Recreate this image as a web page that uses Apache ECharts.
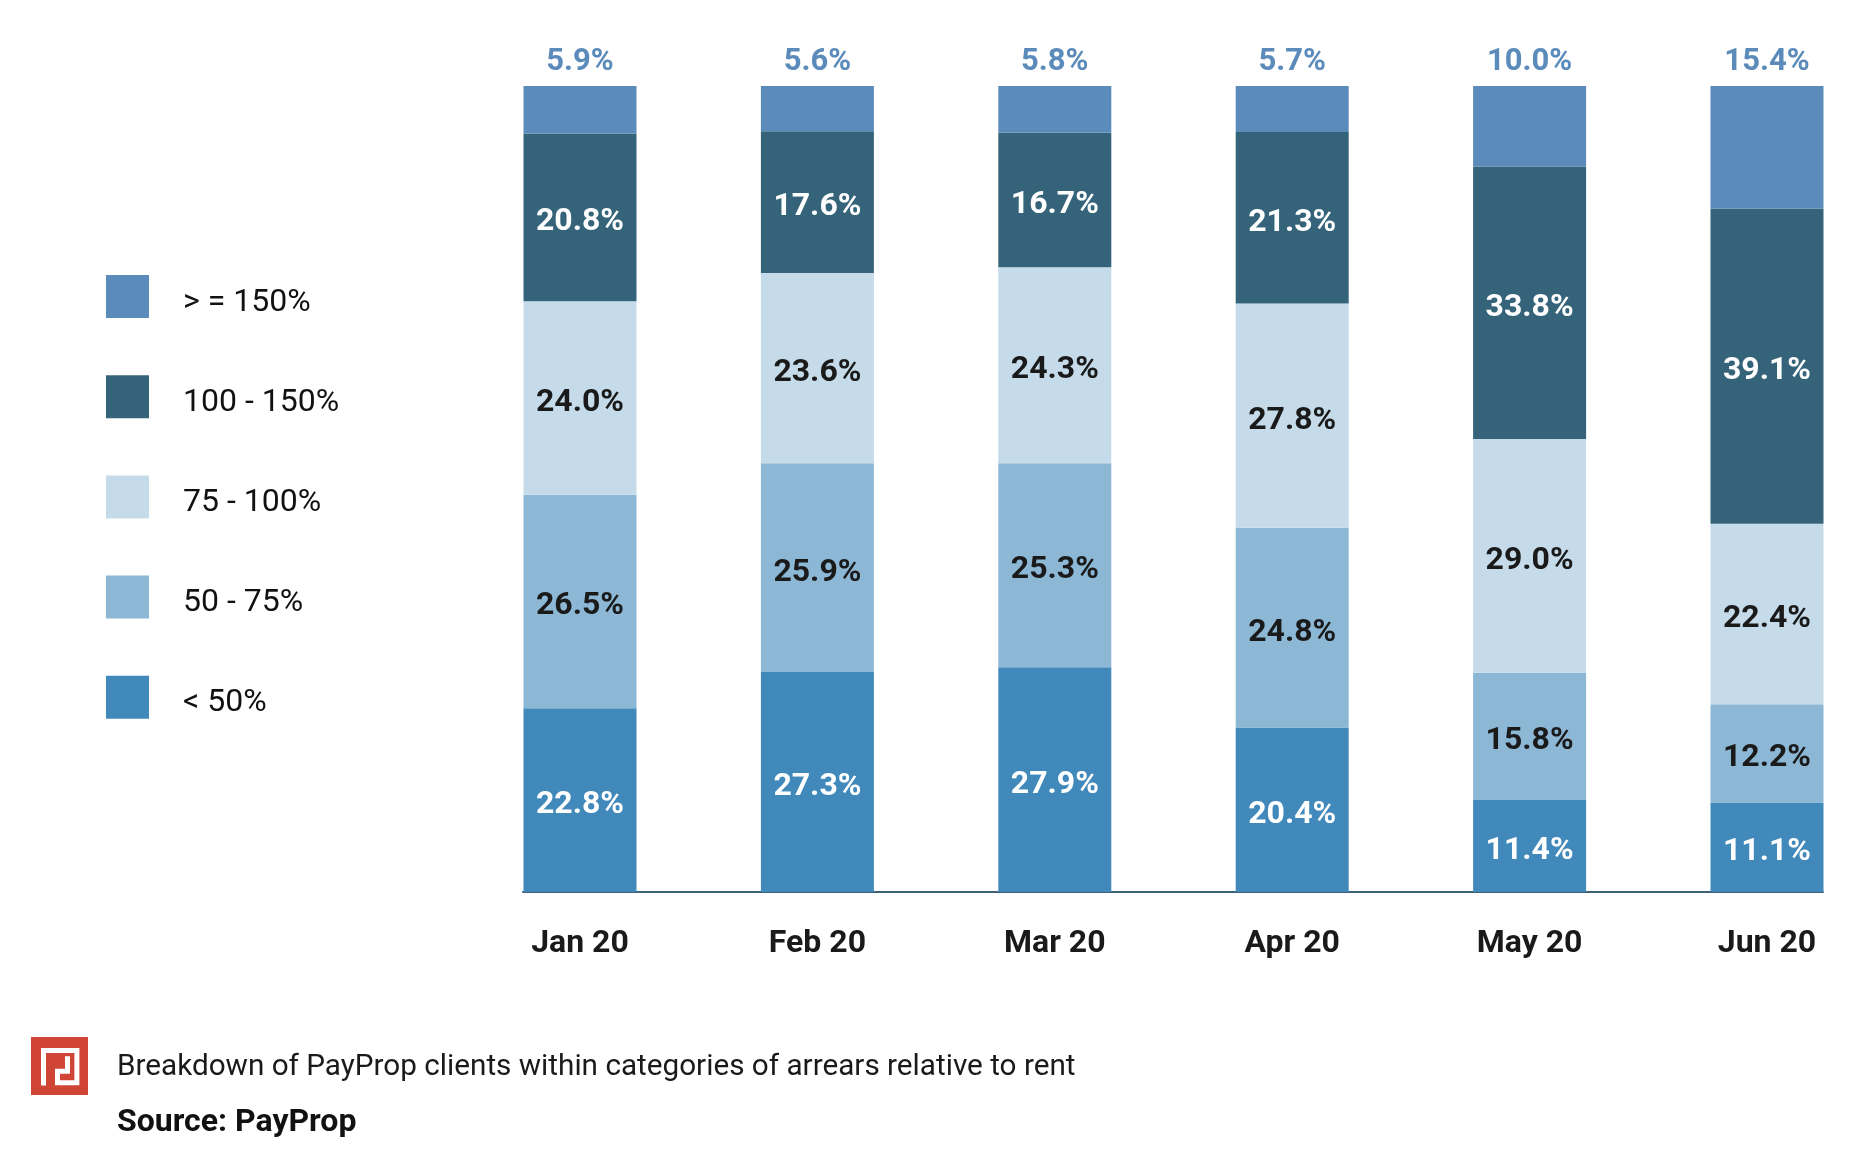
<!DOCTYPE html>
<html>
<head>
<meta charset="utf-8">
<style>
  html, body { margin: 0; padding: 0; background: #ffffff; }
  #chart { width: 1870px; height: 1164px; }
</style>
<script src="https://cdn.jsdelivr.net/npm/echarts@6/dist/echarts.min.js"></script>
</head>
<body>
<div id="chart"></div>
<script>
// ---- data ----
const categories = ['Jan 20', 'Feb 20', 'Mar 20', 'Apr 20', 'May 20', 'Jun 20'];
const seriesNames = ['< 50%', '50 - 75%', '75 - 100%', '100 - 150%', '> = 150%'];
const below50   = [22.8, 27.3, 27.9, 20.4, 11.4, 11.1];
const from50to75  = [26.5, 25.9, 25.3, 24.8, 15.8, 12.2];
const from75to100 = [24.0, 23.6, 24.3, 27.8, 29.0, 22.4];
const from100to150 = [20.8, 17.6, 16.7, 21.3, 33.8, 39.1];
const above150  = [5.9, 5.6, 5.8, 5.7, 10.0, 15.4];
const legendOrder = ['> = 150%', '100 - 150%', '75 - 100%', '50 - 75%', '< 50%'];
const captionText = 'Breakdown of PayProp clients within categories of arrears relative to rent';
const sourceText = 'Source: PayProp';

// ---- style ----
const FONT = 'Roboto, "Liberation Sans", Arial, sans-serif';
const colors = {
  '< 50%': '#4189ba',
  '50 - 75%': '#8cb8d6',
  '75 - 100%': '#c5dbea',
  '100 - 150%': '#35647a',
  '> = 150%': '#5b8bba'
};
const labelColors = {
  '< 50%': '#ffffff',
  '50 - 75%': '#1a1a1a',
  '75 - 100%': '#1a1a1a',
  '100 - 150%': '#ffffff'
};
const values = [below50, from50to75, from75to100, from100to150, above150];
const fmt = p => Number(p.value).toFixed(1) + '%';

const series = seriesNames.map((name, i) => {
  const isTop = name === '> = 150%';
  return {
    name: name,
    type: 'bar',
    stack: 'total',
    barWidth: 113,
    xAxisIndex: 0,
    yAxisIndex: 0,
    data: values[i],
    itemStyle: { color: colors[name] },
    label: isTop ? {
      show: true, position: 'top', distance: 8,
      formatter: fmt, color: '#5b8bba',
      fontFamily: FONT, fontWeight: 'bold', fontSize: 31
    } : {
      show: true, position: 'inside', offset: [0, 5],
      formatter: fmt, color: labelColors[name],
      fontFamily: FONT, fontWeight: 'bold', fontSize: 32
    },
    emphasis: { disabled: true },
    animation: false
  };
});

const chart = echarts.init(document.getElementById('chart'), null, { renderer: 'canvas' });
chart.setOption({
  backgroundColor: '#ffffff',
  animation: false,
  legend: {
    data: legendOrder,
    orient: 'vertical',
    left: 106, top: 275, padding: 0,
    itemWidth: 43, itemHeight: 43, itemGap: 56.7,
    icon: 'rect',
    selectedMode: false,
    formatter: name => '{t|' + name + '}',
    textStyle: {
      fontFamily: FONT, fontSize: 32, color: '#111111',
      rich: { t: { fontFamily: FONT, fontSize: 32, color: '#111111', padding: [12, 0, 0, 29] } }
    }
  },
  title: [
    { text: captionText, left: 117, top: 1053, padding: 0,
      textStyle: { fontFamily: FONT, fontSize: 29.7, fontWeight: 'normal', color: '#1a1a1a' } },
    { text: sourceText, left: 117, top: 1107, padding: 0,
      textStyle: { fontFamily: FONT, fontSize: 32, fontWeight: 'bold', color: '#111111' } }
  ],
  grid: [
    { left: 580, right: 103, top: 86, bottom: 272 },
    { left: 523, right: 47, top: 86, bottom: 272 }
  ],
  xAxis: [
    { type: 'category', gridIndex: 0, data: categories, boundaryGap: false,
      axisLine: { show: false }, axisTick: { show: false },
      axisLabel: { margin: 36, fontFamily: FONT, fontSize: 32, fontWeight: 'bold', color: '#1a1a1a' } },
    { type: 'value', gridIndex: 1, min: 0, max: 1,
      axisLine: { show: true, lineStyle: { color: '#3d6178', width: 2 } },
      axisTick: { show: false }, axisLabel: { show: false }, splitLine: { show: false } }
  ],
  yAxis: [
    { type: 'value', gridIndex: 0, min: 0, max: 100, show: false, splitLine: { show: false } },
    { type: 'value', gridIndex: 1, min: 0, max: 1, show: false, splitLine: { show: false } }
  ],
  graphic: [
    { type: 'rect', left: 31, top: 1037, shape: { width: 57, height: 58 }, style: { fill: '#d04535' } },
    { type: 'polyline', left: 41, top: 1048,
      shape: { points: [[43.3, 1085], [43.3, 1050], [76.7, 1050], [76.7, 1082.3], [57.3, 1082.3], [57.3, 1070.7], [67.3, 1070.7], [67.3, 1055.7]] },
      style: { stroke: '#ffffff', lineWidth: 5, fill: null, lineJoin: 'miter' } }
  ],
  series: series
});
</script>
</body>
</html>
